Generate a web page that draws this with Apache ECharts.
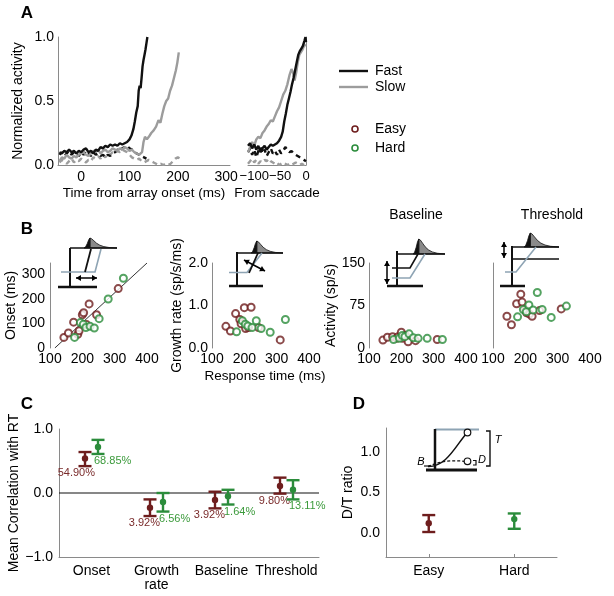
<!DOCTYPE html>
<html><head><meta charset="utf-8">
<script src="https://cdn.jsdelivr.net/npm/echarts@6/dist/echarts.min.js"></script>
<style>html,body{margin:0;padding:0;background:#fff}#c{width:614px;height:596px}</style>
</head><body><div id="c"></div>
<script>
// ---------------- DATA ----------------
// Panel A (aligned on array onset): [time ms, normalized activity]
const fastSolidOnset = [[-45,0.10],[-40,0.09],[-35,0.11],[-30,0.10],[-25,0.12],[-20,0.10],[-15,0.11],[-10,0.09],[-5,0.11],[0,0.10],[5,0.12],[10,0.13],[15,0.10],[20,0.11],[25,0.09],[30,0.12],[35,0.11],[40,0.14],[45,0.13],[50,0.15],[55,0.14],[60,0.16],[65,0.15],[70,0.16],[75,0.15],[80,0.17],[85,0.16],[90,0.17],[95,0.18],[100,0.20],[104,0.23],[108,0.28],[111,0.34],[114,0.41],[117,0.46],[119,0.58],[121,0.62],[123,0.60],[125,0.68],[127,0.77],[129,0.82],[131,0.86],[133,0.90],[135,0.95],[137,1.00]];
const slowSolidOnset = [[-45,0.03],[-40,0.06],[-35,0.05],[-30,0.08],[-25,0.06],[-20,0.05],[-15,0.07],[-10,0.06],[-5,0.08],[0,0.09],[5,0.10],[10,0.08],[15,0.07],[20,0.09],[25,0.11],[30,0.10],[35,0.12],[40,0.09],[45,0.11],[50,0.12],[55,0.10],[60,0.11],[65,0.13],[70,0.12],[75,0.11],[80,0.13],[85,0.12],[90,0.14],[95,0.13],[100,0.11],[105,0.12],[110,0.10],[115,0.09],[120,0.08],[126,0.10],[129,0.18],[132,0.22],[136,0.20],[140,0.22],[145,0.25],[150,0.27],[155,0.30],[160,0.35],[164,0.33],[168,0.40],[172,0.46],[176,0.50],[180,0.52],[184,0.58],[188,0.62],[192,0.68],[196,0.74],[199,0.80],[202,0.88]];
const fastDashOnset = [[-45,0.08],[-40,0.10],[-35,0.07],[-30,0.09],[-25,0.11],[-20,0.08],[-15,0.10],[-10,0.09],[-5,0.07],[0,0.10],[5,0.08],[10,0.11],[15,0.09],[20,0.07],[25,0.10],[30,0.08],[35,0.09],[40,0.07],[45,0.08],[50,0.06],[55,0.08],[60,0.07],[65,0.09],[70,0.10],[75,0.12],[80,0.11],[85,0.13],[90,0.14],[95,0.15],[100,0.13],[105,0.12],[110,0.10],[115,0.09],[120,0.08],[125,0.07],[130,0.06],[135,0.05]];
const slowDashOnset = [[-45,0.02],[-40,0.04],[-35,0.03],[-30,0.01],[-25,0.03],[-20,0.05],[-15,0.02],[-10,0.04],[-5,0.03],[0,0.05],[5,0.03],[10,0.02],[15,0.04],[20,0.03],[25,0.06],[30,0.05],[35,0.07],[40,0.05],[45,0.08],[50,0.06],[55,0.09],[60,0.08],[65,0.10],[70,0.09],[75,0.11],[80,0.10],[85,0.12],[90,0.11],[95,0.10],[100,0.08],[105,0.06],[110,0.05],[115,0.04],[120,0.05],[125,0.03],[130,0.02],[135,0.03],[140,0.04],[145,0.03],[150,0.02],[155,0.01],[160,0.00],[165,0.01],[170,0.00],[175,0.01],[180,0.00],[185,0.01],[190,0.03],[195,0.05],[200,0.06],[205,0.05]];
// Panel A (aligned on saccade)
const fastSolidSacc = [[-112,0.15],[-108,0.17],[-104,0.13],[-100,0.16],[-96,0.12],[-92,0.15],[-88,0.10],[-84,0.13],[-80,0.15],[-76,0.12],[-72,0.14],[-68,0.16],[-64,0.15],[-60,0.16],[-56,0.17],[-52,0.19],[-48,0.22],[-45,0.26],[-42,0.34],[-39,0.40],[-36,0.47],[-33,0.52],[-30,0.57],[-27,0.63],[-24,0.68],[-21,0.74],[-18,0.80],[-15,0.86],[-12,0.89],[-9,0.91],[-6,0.93],[-3,0.97],[-1,1.00],[0,0.96]];
const slowSolidSacc = [[-112,0.10],[-108,0.14],[-104,0.18],[-100,0.15],[-96,0.20],[-92,0.22],[-88,0.21],[-84,0.25],[-80,0.27],[-76,0.30],[-72,0.32],[-68,0.35],[-64,0.34],[-60,0.38],[-56,0.42],[-52,0.45],[-48,0.50],[-44,0.55],[-40,0.58],[-36,0.63],[-32,0.70],[-28,0.75],[-25,0.72],[-22,0.66],[-19,0.72],[-16,0.80],[-13,0.86],[-10,0.88],[-7,0.90],[-4,0.93],[0,0.94]];
const fastDashSacc = [[-112,0.10],[-108,0.13],[-104,0.08],[-100,0.12],[-96,0.06],[-92,0.11],[-88,0.14],[-84,0.09],[-80,0.12],[-76,0.07],[-72,0.10],[-68,0.13],[-64,0.09],[-60,0.11],[-56,0.08],[-52,0.12],[-48,0.09],[-44,0.11],[-40,0.14],[-36,0.12],[-32,0.10],[-28,0.11],[-24,0.09],[-20,0.08],[-16,0.07],[-12,0.06],[-8,0.05],[-4,0.04],[0,0.03]];
const slowDashSacc = [[-112,0.01],[-108,0.03],[-104,0.05],[-100,0.02],[-96,0.04],[-92,0.01],[-88,0.03],[-84,0.02],[-80,0.04],[-76,0.03],[-72,0.05],[-68,0.03],[-64,0.02],[-60,0.01],[-56,0.02],[-52,0.00],[-48,0.01],[-44,0.02],[-40,0.01],[-36,0.00],[-32,0.01],[-28,0.00],[-24,0.01],[-20,0.02],[-16,0.01],[-12,0.00],[-8,0.01],[-4,0.00],[0,0.01]];

// Panel B: per-session response time and fitted parameters
const easyRT        = [143, 157, 173, 186, 190, 200, 204, 213, 221, 244, 311];
const easyOnset     = [43, 61, 105, 56, 70, 135, 143, 95, 179, 135, 241];
const easyGrowth    = [0.51, 0.40, 0.81, 0.67, 0.57, 0.95, 0.46, 0.48, 0.96, 0.48, 0.19];
const easyBaseline  = [14, 19, 20, 17, 20, 28, 17, 22, 11, 13, 15];
const easyThreshold = [56, 41, 78, 95, 81, 67, 62, 60, 56, 66, 69];
const hardRT        = [176, 194, 203, 211, 224, 237, 252, 280, 327];
const hardOnset     = [43, 103, 96, 83, 88, 81, 119, 199, 283];
const hardGrowth    = [0.38, 0.64, 0.56, 0.52, 0.48, 0.64, 0.46, 0.37, 0.67];
const hardBaseline  = [15, 17, 22, 20, 25, 18, 17, 17, 15];
const hardThreshold = [55, 68, 64, 76, 67, 98, 68, 54, 74];
const onsetFitLine  = [[115, 0], [400, 345]];

// Panel C
const corrCats     = ['Onset', 'Growth\nrate', 'Baseline', 'Threshold'];
const corrEasyMean = [0.54, -0.23, -0.11, 0.11];
const corrEasyLo   = [0.42, -0.36, -0.24, -0.01];
const corrEasyHi   = [0.64, -0.10, 0.02, 0.24];
const corrHardMean = [0.72, -0.14, -0.05, 0.05];
const corrHardLo   = [0.61, -0.29, -0.18, -0.10];
const corrHardHi   = [0.83, 0.00, 0.05, 0.20];
const pctEasy      = ['54.90%', '3.92%', '3.92%', '9.80%'];
const pctHard      = ['68.85%', '6.56%', '1.64%', '13.11%'];

// Panel D
const dtCats = ['Easy', 'Hard'];
const dtMean = [0.12, 0.17];
const dtLo   = [0.01, 0.05];
const dtHi   = [0.22, 0.24];

// Tick labels
const ticksA1x = [0, 100, 200, 300];
const ticksA2x = [-100, -50, 0];
const ticksAy  = [0, 0.5, 1];
const ticksBx  = [100, 200, 300, 400];
const ticksOnset = [0, 100, 200, 300];
const ticksGrowth = [0, 1, 2];
const ticksAct = [0, 75, 150];
const ticksC = [-1, 0, 1];
const ticksD = [0, 0.5, 1];

// ---------------- STYLE ----------------
const FONT = 'Liberation Sans, Arial, Helvetica, sans-serif';
const RED = '#6e1d1d', GREEN = '#2b8c3b', REDT = '#7a2b2b', GREENT = '#3b9a3b';
const TRACEGRAY = '#9c9c9c', AXIS = '#8a8a8a', BLUEGRAY = '#8ea4b4';
const minus = s => String(s).replace('-', '\u2212');

function vAxis(o) {
  const base = {
    type: 'value', splitLine: {show: false},
    axisLine: {show: true, onZero: false, lineStyle: {color: AXIS, width: 1}},
    axisTick: {show: false},
    axisLabel: {color: '#000', fontSize: 14, fontFamily: FONT, showMinLabel: true, showMaxLabel: true, hideOverlap: false},
    nameTextStyle: {color: '#000', fontSize: 14, fontFamily: FONT},
    nameLocation: 'middle'
  };
  const r = Object.assign({}, base, o);
  r.axisLabel = Object.assign({}, base.axisLabel, o.axisLabel || {});
  r.axisLine = Object.assign({}, base.axisLine, o.axisLine || {});
  r.nameTextStyle = Object.assign({}, base.nameTextStyle, o.nameTextStyle || {});
  return r;
}

const grids = [
  {left: 58, top: 37, width: 172, height: 128},   // A1
  {left: 248, top: 37, width: 58, height: 128},   // A2
  {left: 50, top: 263, width: 97, height: 85},    // B1
  {left: 212, top: 263, width: 97, height: 85},   // B2
  {left: 369, top: 263, width: 97, height: 85},   // B3
  {left: 493, top: 263, width: 97, height: 85},   // B4
  {left: 59, top: 429, width: 260, height: 128},  // C
  {left: 386, top: 428, width: 171, height: 129}  // D
].map(g => Object.assign({outerBoundsMode: 'none', containLabel: false}, g));

const fx1 = v => v.toFixed(1);
const xAxes = [
  vAxis({gridIndex: 0, min: -48, max: 308, axisLabel: {customValues: ticksA1x, margin: 5}, name: 'Time from array onset (ms)', nameGap: 21, nameTextStyle: {fontSize: 13.5}}),
  vAxis({gridIndex: 1, min: -112, max: 0, axisLabel: {customValues: ticksA2x, margin: 5, fontSize: 13, formatter: v => minus(v)}, name: 'From saccade', nameGap: 21, nameTextStyle: {fontSize: 13.5}}),
  vAxis({gridIndex: 2, min: 100, max: 400, axisLine: {show: false}, axisLabel: {customValues: ticksBx, margin: 4}}),
  vAxis({gridIndex: 3, min: 100, max: 400, axisLine: {show: false}, axisLabel: {customValues: ticksBx, margin: 4}}),
  vAxis({gridIndex: 4, min: 100, max: 400, axisLine: {show: false}, axisLabel: {customValues: ticksBx, margin: 4}}),
  vAxis({gridIndex: 5, min: 100, max: 400, axisLine: {show: false}, axisLabel: {customValues: ticksBx, margin: 4}}),
  vAxis({gridIndex: 6, min: 0.5, max: 4.5, axisLabel: {customValues: [1, 2, 3, 4], margin: 7, lineHeight: 14, formatter: v => corrCats[Math.round(v) - 1]}}),
  Object.assign(vAxis({gridIndex: 7, axisLabel: {margin: 7}}), {type: 'category', data: dtCats, boundaryGap: true,
    axisTick: {show: true, alignWithLabel: true, inside: true, length: 3, lineStyle: {color: AXIS}}})
];
const yAxes = [
  vAxis({gridIndex: 0, min: 0, max: 1, axisLabel: {customValues: ticksAy, formatter: fx1, margin: 4}, name: 'Normalized activity', nameGap: 33}),
  vAxis({gridIndex: 1, min: 0, max: 1, position: 'right', axisLabel: {show: false}}),
  vAxis({gridIndex: 2, min: 0, max: 345, axisLabel: {customValues: ticksOnset, margin: 5}, name: 'Onset (ms)', nameGap: 32}),
  vAxis({gridIndex: 3, min: 0, max: 2, axisLabel: {customValues: ticksGrowth, formatter: fx1, margin: 4}, name: 'Growth rate (sp/s/ms)', nameGap: 27}),
  vAxis({gridIndex: 4, min: 0, max: 150, axisLabel: {customValues: ticksAct, margin: 4}, name: 'Activity (sp/s)', nameGap: 26}),
  vAxis({gridIndex: 5, min: 0, max: 150, axisLabel: {show: false}}),
  vAxis({gridIndex: 6, min: -1, max: 1, axisLabel: {customValues: ticksC, formatter: v => minus(fx1(v)), margin: 6}, name: 'Mean Correlation with RT', nameGap: 37}),
  vAxis({gridIndex: 7, min: -0.3, max: 1.3, axisLabel: {customValues: ticksD, formatter: fx1, margin: 6}, name: 'D/T ratio', nameGap: 31})
];

// ---------------- SERIES ----------------
const series = [];
function trace(ai, data, color, dashed) {
  series.push({type: 'line', xAxisIndex: ai, yAxisIndex: ai, data: data, showSymbol: false, symbol: 'none',
    lineStyle: {color: color, width: 2.4, type: dashed ? [5, 4] : 'solid'}, z: dashed ? 2 : 3, silent: true, clip: true});
}
trace(0, slowDashOnset, TRACEGRAY, true); trace(0, fastDashOnset, '#111', true);
trace(0, slowSolidOnset, TRACEGRAY, false); trace(0, fastSolidOnset, '#111', false);
trace(1, slowDashSacc, TRACEGRAY, true); trace(1, fastDashSacc, '#111', true);
trace(1, slowSolidSacc, TRACEGRAY, false); trace(1, fastSolidSacc, '#111', false);

series.push({type: 'line', xAxisIndex: 2, yAxisIndex: 2, data: onsetFitLine, showSymbol: false, symbol: 'none',
  lineStyle: {color: '#333', width: 1}, z: 1});
function scat(ai, rts, vals, color) {
  series.push({type: 'scatter', xAxisIndex: ai, yAxisIndex: ai, data: rts.map((r, i) => [r, vals[i]]),
    symbol: 'emptyCircle', symbolSize: 7, itemStyle: {color: color, borderColor: color, borderWidth: 1.7}, z: 4});
}
[[2, easyOnset, hardOnset], [3, easyGrowth, hardGrowth], [4, easyBaseline, hardBaseline], [5, easyThreshold, hardThreshold]]
  .forEach(([ai, e, h]) => { scat(ai, easyRT, e, RED); scat(ai, hardRT, h, GREEN); });

// zero line in C
series.push({type: 'line', xAxisIndex: 6, yAxisIndex: 6, data: [[0.5, 0], [4.5, 0]], showSymbol: false, symbol: 'none',
  lineStyle: {color: '#111', width: 1.2}, z: 1});

function errSeries(ai, data, color, labels, txtColor, side) {
  series.push({type: 'custom', xAxisIndex: ai, yAxisIndex: ai, data: data, clip: false, z: 5,
    encode: {x: 0, y: [1, 2, 3]},
    renderItem: function (params, api) {
      const x = api.value(0);
      const pLo = api.coord([x, api.value(1)]), pHi = api.coord([x, api.value(2)]), pM = api.coord([x, api.value(3)]);
      const hw = 6.5, st = {stroke: color, lineWidth: 2.4};
      const ch = [
        {type: 'line', shape: {x1: pLo[0], y1: pLo[1], x2: pHi[0], y2: pHi[1]}, style: st},
        {type: 'line', shape: {x1: pLo[0] - hw, y1: pLo[1], x2: pLo[0] + hw, y2: pLo[1]}, style: st},
        {type: 'line', shape: {x1: pHi[0] - hw, y1: pHi[1], x2: pHi[0] + hw, y2: pHi[1]}, style: st},
        {type: 'circle', shape: {cx: pM[0], cy: pM[1], r: 3.2}, style: {fill: color}}
      ];
      if (labels) {
        const t = labels[params.dataIndex];
        ch.push({type: 'text', x: side < 0 ? pLo[0] + 10 : pLo[0] - 4, y: pLo[1] + 1.5,
          style: {text: t, fill: txtColor, font: '11px ' + FONT, align: side < 0 ? 'right' : 'left', verticalAlign: 'top',
            textAlign: side < 0 ? 'right' : 'left', textVerticalAlign: 'top'}});
      }
      return {type: 'group', children: ch};
    }});
}
errSeries(6, corrEasyMean.map((m, i) => [i + 1 - 0.1, corrEasyLo[i], corrEasyHi[i], m]), RED, pctEasy, REDT, -1);
errSeries(6, corrHardMean.map((m, i) => [i + 1 + 0.1, corrHardLo[i], corrHardHi[i], m]), GREEN, pctHard, GREENT, 1);
errSeries(7, [[0, dtLo[0], dtHi[0], dtMean[0]]], RED, null);
errSeries(7, [[1, dtLo[1], dtHi[1], dtMean[1]]], GREEN, null);

// ---------------- GRAPHIC (labels, legend, schematic insets) ----------------
const G = [];
function txt(x, y, s, size, opt) {
  opt = opt || {};
  G.push({type: 'text', x: x, y: y, z: 10, style: {text: s, fill: opt.color || '#000',
    font: (opt.italic ? 'italic ' : '') + (opt.bold ? 'bold ' : '') + size + 'px ' + FONT,
    align: opt.align || 'center', verticalAlign: 'middle', textAlign: opt.align || 'center', textVerticalAlign: 'middle'}});
}
function ln(x1, y1, x2, y2, color, w, dash) {
  G.push({type: 'line', z: 10, shape: {x1, y1, x2, y2}, style: {stroke: color, lineWidth: w, lineDash: dash || null}});
}
function pl(points, color, w) {
  G.push({type: 'polyline', z: 10, shape: {points}, style: {stroke: color, lineWidth: w, fill: null}});
}
function head(x, y, ang) {
  const L = 5, W = 3;
  const bx = x - L * Math.cos(ang), by = y - L * Math.sin(ang);
  const px = -Math.sin(ang) * W, py = Math.cos(ang) * W;
  G.push({type: 'polygon', z: 11, shape: {points: [[x, y], [bx + px, by + py], [bx - px, by - py]]}, style: {fill: '#000'}});
}
function dbl(x1, y1, x2, y2) {
  ln(x1, y1, x2, y2, '#000', 1.5);
  const a = Math.atan2(y2 - y1, x2 - x1);
  head(x2, y2, a); head(x1, y1, a + Math.PI);
}
const PEAK = [[0, 0], [0.05, -0.12], [0.1, -0.45], [0.14, -0.8], [0.18, -1], [0.23, -0.93], [0.3, -0.72], [0.38, -0.48], [0.48, -0.28], [0.6, -0.14], [0.76, -0.05], [1, 0]];
function peak(x0, base, w, h) {
  const P = PEAK.map(p => [x0 + p[0] * w, base + p[1] * h]);
  const split = 4;
  G.push({type: 'polygon', z: 10, shape: {points: P.slice(split).concat([[P[split][0], base]])}, style: {fill: '#8a8a8a', stroke: '#111', lineWidth: 0.8}});
  G.push({type: 'polygon', z: 11, shape: {points: P.slice(0, split + 1).concat([[P[split][0], base]])}, style: {fill: '#111', stroke: '#111', lineWidth: 0.8}});
}

// panel letters
txt(27, 13, 'A', 17, {bold: true});
txt(27, 229, 'B', 17, {bold: true});
txt(27, 404, 'C', 17, {bold: true});
txt(359, 404, 'D', 17, {bold: true});
// titles in B
txt(416, 215, 'Baseline', 14);
txt(552, 215, 'Threshold', 14);
txt(265, 376, 'Response time (ms)', 13.5);

// legend
ln(339, 71, 368, 71, '#111', 2.4); txt(375, 71, 'Fast', 14, {align: 'left'});
ln(339, 87, 368, 87, TRACEGRAY, 2.4); txt(375, 87, 'Slow', 14, {align: 'left'});
G.push({type: 'circle', z: 10, shape: {cx: 355, cy: 129, r: 3}, style: {stroke: RED, lineWidth: 1.6, fill: null}});
txt(375, 129, 'Easy', 14, {align: 'left'});
G.push({type: 'circle', z: 10, shape: {cx: 355, cy: 148, r: 3}, style: {stroke: GREEN, lineWidth: 1.6, fill: null}});
txt(375, 148, 'Hard', 14, {align: 'left'});

// inset B1 (onset)
peak(84, 248, 33, 10);
ln(70, 248, 117, 248, '#111', 1.5);
ln(70, 248, 70, 287, '#111', 2);
ln(58, 287, 97, 287, '#111', 2.5);
pl([[61, 272], [95, 272], [101, 249]], BLUEGRAY, 1.6);
ln(85, 272, 91, 249, '#111', 1.8);
dbl(76, 278, 97, 278);
// inset B2 (growth rate)
peak(251, 253, 32, 12);
ln(237, 253, 283, 253, '#111', 1.5);
ln(237, 252, 237, 286, '#111', 2);
ln(229, 286, 263, 286, '#111', 2.5);
pl([[229, 272.5], [247, 272.5], [262, 253]], BLUEGRAY, 1.6);
ln(249, 273, 258, 253, '#111', 1.8);
dbl(244, 260, 265, 271);
// inset B3 (baseline)
peak(413, 254, 32, 15);
ln(397, 254, 445, 254, '#111', 1.5);
ln(397, 251, 397, 286, '#111', 2);
ln(387, 286, 423, 286, '#111', 2.5);
pl([[392, 268], [410, 268], [418, 254]], '#111', 1.6);
pl([[392, 278], [410, 278], [425, 254]], BLUEGRAY, 1.6);
dbl(387, 261, 387, 284);
// inset B4 (threshold)
peak(524, 247, 35, 14);
ln(512, 247, 559, 247, '#111', 1.5);
ln(512, 259, 559, 259, '#111', 1.5);
ln(512, 246, 512, 286, '#111', 2);
ln(500, 286, 525, 286, '#111', 2.5);
pl([[505, 272], [516, 272], [536, 247]], BLUEGRAY, 1.6);
dbl(504, 242, 504, 258);

// inset D
ln(435, 429.5, 479, 429.5, BLUEGRAY, 2);
ln(435, 429, 435, 470, '#111', 2.5);
ln(426, 470, 477, 470, '#111', 3);
ln(424, 466, 431, 466, '#111', 1.2);
G.push({type: 'bezierCurve', z: 10, shape: {x1: 428, y1: 466.5, cpx1: 446, cpy1: 467, cpx2: 455, cpy2: 447, x2: 466, y2: 434}, style: {stroke: '#111', lineWidth: 1.5, fill: null}});
G.push({type: 'bezierCurve', z: 10, shape: {x1: 428, y1: 466.5, cpx1: 440, cpy1: 461, cpx2: 452, cpy2: 460, x2: 464, y2: 461.3}, style: {stroke: '#111', lineWidth: 1.2, fill: null, lineDash: [3, 2]}});
G.push({type: 'circle', z: 11, shape: {cx: 467.5, cy: 432.5, r: 3.3}, style: {stroke: '#111', lineWidth: 1.2, fill: '#fff'}});
G.push({type: 'circle', z: 11, shape: {cx: 467.5, cy: 461.3, r: 3.3}, style: {stroke: '#111', lineWidth: 1.2, fill: '#fff'}});
pl([[473, 460.5], [476, 460.5], [476, 465], [473, 465]], '#111', 1.2);
pl([[486, 431], [490, 431], [490, 466], [486, 466]], '#111', 1.4);
txt(421, 462, 'B', 11, {italic: true});
txt(482, 460, 'D', 11, {italic: true});
txt(498, 440, 'T', 11, {italic: true});

const chart = echarts.init(document.getElementById('c'), null, {renderer: 'canvas'});
chart.setOption({
  backgroundColor: '#fff',
  animation: false,
  textStyle: {fontFamily: FONT},
  grid: grids,
  xAxis: xAxes,
  yAxis: yAxes,
  series: series,
  graphic: {elements: G}
});
</script></body></html>
